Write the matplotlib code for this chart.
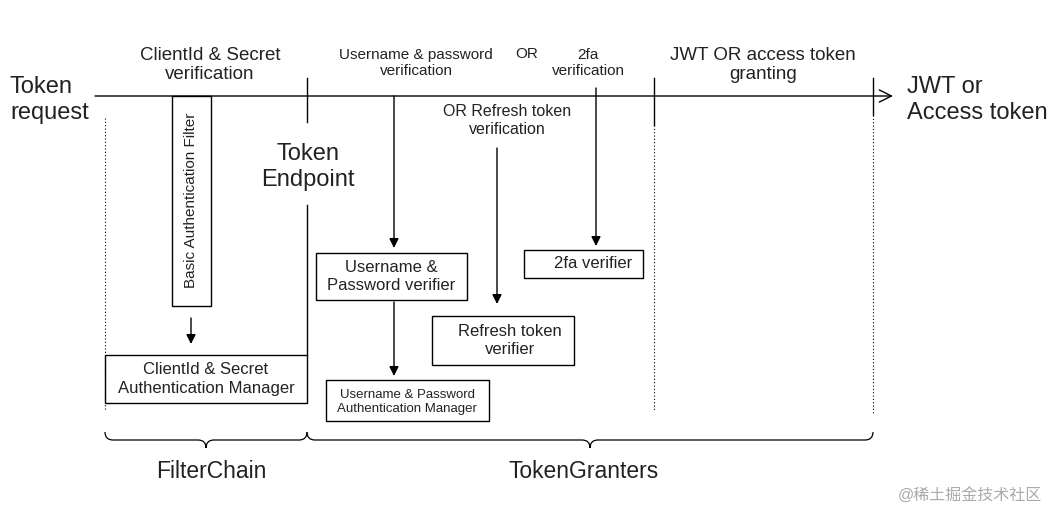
import matplotlib
matplotlib.use("Agg")
import matplotlib.pyplot as plt
from matplotlib.patches import Rectangle, FancyArrowPatch, PathPatch
from matplotlib.path import Path

plt.rcParams['font.family'] = ['Liberation Sans', 'Noto Sans CJK SC', 'DejaVu Sans']
plt.rcParams['text.color'] = '#222222'

stage_labels = ["ClientId & Secret\nverification", "Username & password\nverification", "OR", "2fa\nverification",
                "JWT OR access token\ngranting", "OR Refresh token\nverification"]
group_labels = ["FilterChain", "TokenGranters"]
box_labels = ["ClientId & Secret\nAuthentication Manager", "Username &\nPassword verifier",
              "Username & Password\nAuthentication Manager", "Refresh token\nverifier", "2fa verifier"]

fig = plt.figure(figsize=(10.58, 5.22), dpi=100)
ax = fig.add_axes([0, 0, 1, 1])
ax.set_xlim(0, 1058); ax.set_ylim(522, 0); ax.axis('off')
k = dict(color='black', lw=1)

def arrow(x0, y0, x1, y1, style='-|>', ms=14):
    ax.add_patch(FancyArrowPatch((x0, y0), (x1, y1), arrowstyle=style, mutation_scale=ms,
                                 color='black', lw=1, shrinkA=0, shrinkB=0))

arrow(95, 96, 893, 96, style='->', ms=22)
ax.text(10, 100, "Token\nrequest", fontsize=17, va='center', ha='left', linespacing=1.2)
ax.text(907, 100, "JWT or\nAccess token", fontsize=17, va='center', ha='left', linespacing=1.2)

for x, a, b in [(307, 78, 122), (307, 205, 355), (654, 78, 125), (873, 78, 115)]:
    ax.plot([x, x], [a, b], **k)
for x, a, b in [(105, 118, 410), (654, 125, 410), (873, 115, 415)]:
    ax.plot([x, x], [a, b], color='black', lw=0.8, ls=(0, (1, 2)))

ax.text(308, 167, "Token\nEndpoint", fontsize=17, ha='center', va='center', linespacing=1.2)

ax.text(210, 65, stage_labels[0], fontsize=13.5, ha='center', va='center', linespacing=1.2)
ax.text(416, 63, stage_labels[1], fontsize=11, ha='center', va='center', linespacing=1.25)
ax.text(527, 54, stage_labels[2], fontsize=11, ha='center', va='center')
ax.text(588, 63, stage_labels[3], fontsize=11, ha='center', va='center', linespacing=1.25)
ax.text(763, 65, stage_labels[4], fontsize=13.5, ha='center', va='center', linespacing=1.2)
ax.text(507, 121, stage_labels[5], fontsize=11.5, ha='center', va='center', linespacing=1.25)

def box(x0, y0, x1, y1):
    ax.add_patch(Rectangle((x0, y0), x1 - x0, y1 - y0, fill=False, **k))

box(172, 96, 211, 306)
ax.text(191, 200, "Basic Authentication Filter", fontsize=11, rotation=90, ha='center', va='center')
arrow(191, 318, 191, 344)
box(105, 355, 307, 403)
ax.text(206, 379, box_labels[0], fontsize=12, ha='center', va='center', linespacing=1.25)
box(316, 253, 467, 300)
ax.text(391, 277, box_labels[1], fontsize=12, ha='center', va='center', linespacing=1.25)
arrow(394, 96, 394, 248)
arrow(394, 302, 394, 376)
box(326, 380, 489, 421)
ax.text(407, 402, box_labels[2], fontsize=9.5, ha='center', va='center', linespacing=1.3)
box(432, 316, 574, 365)
ax.text(510, 340, box_labels[3], fontsize=12, ha='center', va='center', linespacing=1.25)
arrow(497, 148, 497, 304)
box(524, 250, 643, 278)
ax.text(593, 264, box_labels[4], fontsize=12, ha='center', va='center')
arrow(596, 88, 596, 246)

def brace(x0, x1, y=432, h=8):
    m = (x0 + x1) / 2
    verts = [(x0, y), (x0, y + h), (x0 + 8, y + h),
             (m - 8, y + h), (m, y + h), (m, y + 2 * h),
             (m, y + h), (m + 8, y + h),
             (x1 - 8, y + h), (x1, y + h), (x1, y)]
    codes = [Path.MOVETO, Path.CURVE3, Path.CURVE3, Path.LINETO, Path.CURVE3, Path.CURVE3,
             Path.CURVE3, Path.CURVE3, Path.LINETO, Path.CURVE3, Path.CURVE3]
    ax.add_patch(PathPatch(Path(verts, codes), fill=False, lw=0.9, color='black'))

brace(105, 307)
brace(307, 873)
ax.text(211, 472, group_labels[0], fontsize=16.5, ha='center', va='center')
ax.text(584, 472, group_labels[1], fontsize=16.5, ha='center', va='center')

ax.text(1042, 496, "@稀土掘金技术社区", fontsize=11.5, color='#aaaaaa', ha='right', va='center')

fig.savefig("out.png", dpi=100)
